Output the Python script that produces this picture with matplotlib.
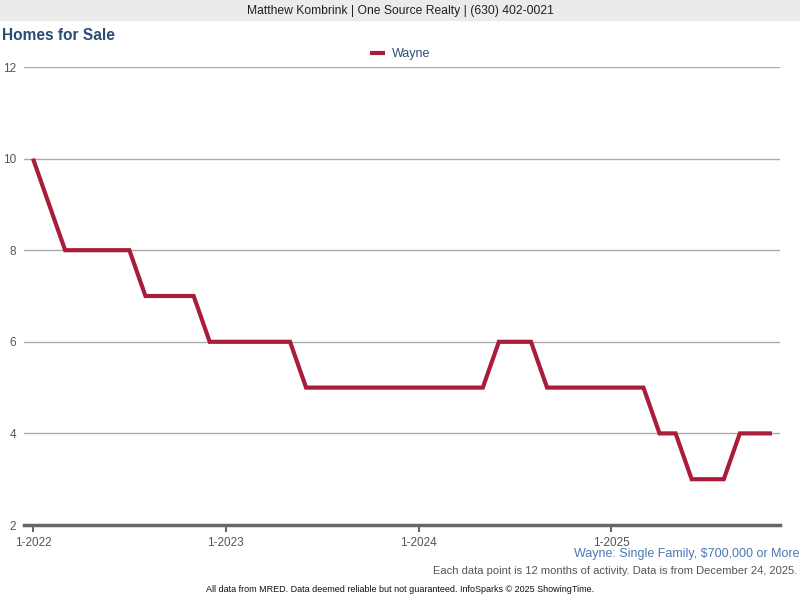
import numpy as np
import matplotlib
matplotlib.use("Agg")
import matplotlib.pyplot as plt

plt.rcParams['font.family'] = ['Liberation Sans', 'DejaVu Sans']

# monthly values, 1-2022 .. 11-2025
months = ["1-2022", "2-2022", "3-2022", "4-2022", "5-2022", "6-2022", "7-2022", "8-2022",
          "9-2022", "10-2022", "11-2022", "12-2022",
          "1-2023", "2-2023", "3-2023", "4-2023", "5-2023", "6-2023", "7-2023", "8-2023",
          "9-2023", "10-2023", "11-2023", "12-2023",
          "1-2024", "2-2024", "3-2024", "4-2024", "5-2024", "6-2024", "7-2024", "8-2024",
          "9-2024", "10-2024", "11-2024", "12-2024",
          "1-2025", "2-2025", "3-2025", "4-2025", "5-2025", "6-2025", "7-2025", "8-2025",
          "9-2025", "10-2025", "11-2025"]
wayne = [10, 9, 8, 8, 8, 8, 8, 7, 7, 7, 7, 6,
         6, 6, 6, 6, 6, 5, 5, 5, 5, 5, 5, 5,
         5, 5, 5, 5, 5, 6, 6, 6, 5, 5, 5, 5,
         5, 5, 5, 4, 4, 3, 3, 3, 4, 4, 4]
year_ticks = ["1-2022", "1-2023", "1-2024", "1-2025"]
y_ticks = [2, 4, 6, 8, 10, 12]

fig = plt.figure(figsize=(8, 6), dpi=100)

# header band
fig.patches.append(plt.Rectangle((0, 1 - 20 / 600), 1, 20 / 600, transform=fig.transFigure,
                                 color='#ebebeb', zorder=0))
fig.text(0.5, 1 - 11 / 600, "Matthew Kombrink | One Source Realty | (630) 402-0021",
         ha='center', va='center', fontsize=8.7, color='#222222')
fig.text(2 / 800, 1 - 35 / 600, "Homes for Sale", ha='left', va='center',
         fontsize=11.2, fontweight='bold', color='#2a4d74')

ax = fig.add_axes([24 / 800, 1 - 525 / 600, (780 - 24) / 800, (525 - 67) / 600])
x = np.arange(len(wayne))
ax.plot(x, wayne, color='#a91d3a', linewidth=3, solid_joinstyle='miter',
        solid_capstyle='butt', label='Wayne', zorder=3)

ax.set_xlim(-0.56, 46.5)
ax.set_ylim(2, 12)
ax.set_yticks(y_ticks)
ax.set_yticklabels([str(v) for v in y_ticks])
ax.yaxis.grid(True, color='#aaaaaa', linewidth=1)
ax.set_axisbelow(True)
ax.tick_params(axis='y', length=0, pad=5.5, labelsize=8.5, labelcolor='#555555')

ax.set_xticks([months.index(t) for t in year_ticks])
ax.set_xticklabels(year_ticks)
ax.tick_params(axis='x', length=5, width=1.5, color='#666666', pad=4,
               labelsize=8.5, labelcolor='#555555')

for s in ['top', 'right', 'left']:
    ax.spines[s].set_visible(False)
ax.spines['bottom'].set_color('#666666')
ax.spines['bottom'].set_linewidth(2.5)

leg = fig.legend(loc='center', bbox_to_anchor=(0.5, 1 - 54 / 600), frameon=False,
                 fontsize=9, handlelength=1.2, handletextpad=0.5)
for t in leg.get_texts():
    t.set_color('#2b4d75')

fig.text(799 / 800, 1 - 554 / 600, "Wayne: Single Family, $700,000 or More",
         ha='right', va='center', fontsize=9, color='#4a78b0')
fig.text(797 / 800, 1 - 571 / 600,
         "Each data point is 12 months of activity. Data is from December 24, 2025.",
         ha='right', va='center', fontsize=8, color='#555555')
fig.text(0.5, 1 - 590 / 600,
         "All data from MRED. Data deemed reliable but not guaranteed. InfoSparks \u00a9 2025 ShowingTime.",
         ha='center', va='center', fontsize=6.5, color='#111111')

fig.savefig("out.png", dpi=100)
